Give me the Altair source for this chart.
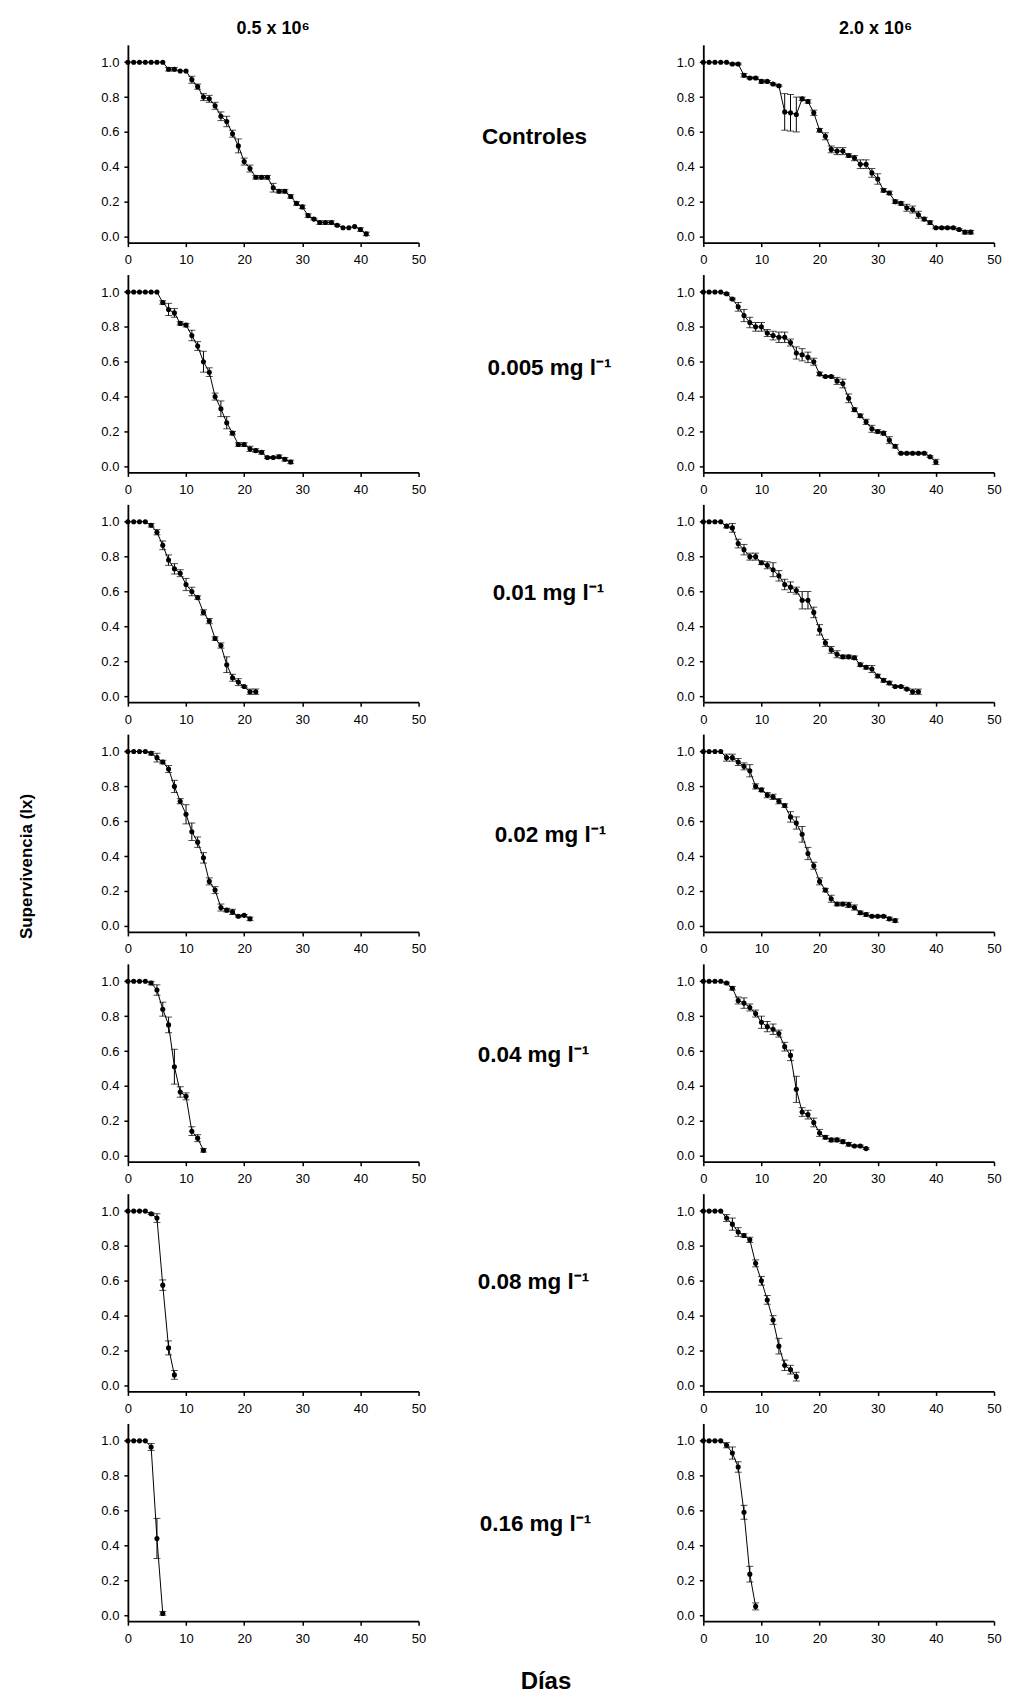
import altair as alt
import pandas as pd

# ---------------- data ----------------
density_titles = ["0.5 x 10⁶", "2.0 x 10⁶"]
treatments = ["Controles", "0.005 mg l⁻¹", "0.01 mg l⁻¹", "0.02 mg l⁻¹",
              "0.04 mg l⁻¹", "0.08 mg l⁻¹", "0.16 mg l⁻¹"]
x_ticks = [0, 10, 20, 30, 40, 50]
y_ticks = [0.0, 0.2, 0.4, 0.6, 0.8, 1.0]

# survival (lx) from day 0 onward, and its error, for 0.5 x 10^6
lx_a_ctrl = [1, 1, 1, 1, 1, 1, 1, 0.96, 0.96, 0.95, 0.95, 0.90, 0.86, 0.80, 0.79, 0.75, 0.69, 0.66,
             0.59, 0.52, 0.43, 0.39, 0.34, 0.34, 0.34, 0.28, 0.26, 0.26, 0.23, 0.19, 0.17, 0.12,
             0.10, 0.08, 0.08, 0.08, 0.065, 0.05, 0.05, 0.057, 0.04, 0.015]
er_a_ctrl = [0, 0, 0, 0, 0, 0, 0, 0.01, 0.01, 0, 0, 0.02, 0.015, 0.02, 0.02, 0.02, 0.025, 0.03,
             0.02, 0.04, 0.02, 0.02, 0.01, 0.01, 0.01, 0.025, 0.01, 0.01, 0.01, 0.01, 0.01, 0.01,
             0.005, 0.01, 0.01, 0.01, 0.005, 0, 0, 0, 0.01, 0.01]
lx_a_005 = [1, 1, 1, 1, 1, 1, 0.94, 0.90, 0.88, 0.82, 0.81, 0.75, 0.69, 0.60, 0.54, 0.40, 0.33,
            0.25, 0.19, 0.125, 0.125, 0.10, 0.09, 0.08, 0.05, 0.05, 0.055, 0.04, 0.025]
er_a_005 = [0, 0, 0, 0, 0, 0, 0.01, 0.035, 0.025, 0.01, 0.01, 0.03, 0.025, 0.06, 0.025, 0.02, 0.045,
            0.035, 0.01, 0.01, 0.01, 0.015, 0.01, 0.01, 0.005, 0.005, 0.01, 0.01, 0.01]
lx_a_01 = [1, 1, 1, 1, 0.98, 0.94, 0.865, 0.78, 0.73, 0.705, 0.64, 0.60, 0.565, 0.48, 0.43, 0.33,
           0.29, 0.18, 0.105, 0.08, 0.055, 0.025, 0.025]
er_a_01 = [0, 0, 0, 0, 0.01, 0.015, 0.025, 0.03, 0.03, 0.02, 0.035, 0.025, 0.01, 0.015, 0.015, 0.01,
           0.015, 0.045, 0.02, 0.02, 0.005, 0.015, 0.015]
lx_a_02 = [1, 1, 1, 1, 0.99, 0.965, 0.94, 0.90, 0.80, 0.715, 0.64, 0.54, 0.48, 0.39, 0.255, 0.205,
           0.105, 0.09, 0.08, 0.055, 0.06, 0.04]
er_a_02 = [0, 0, 0, 0, 0.01, 0.025, 0.01, 0.02, 0.035, 0.015, 0.055, 0.05, 0.03, 0.03, 0.02, 0.02,
           0.02, 0.01, 0.015, 0.005, 0.005, 0.01]
lx_a_04 = [1, 1, 1, 1, 0.99, 0.95, 0.84, 0.75, 0.51, 0.365, 0.34, 0.14, 0.10, 0.03]
er_a_04 = [0, 0, 0, 0, 0.01, 0.03, 0.04, 0.045, 0.10, 0.03, 0.02, 0.025, 0.02, 0.01]
lx_a_08 = [1, 1, 1, 1, 0.985, 0.96, 0.575, 0.215, 0.06]
er_a_08 = [0, 0, 0, 0, 0.005, 0.025, 0.03, 0.04, 0.025]
lx_a_16 = [1, 1, 1, 1, 0.965, 0.44, 0.01]
er_a_16 = [0, 0, 0, 0, 0.02, 0.115, 0.01]

# survival (lx) from day 0 onward, and its error, for 2.0 x 10^6
lx_b_ctrl = [1, 1, 1, 1, 1, 0.99, 0.99, 0.925, 0.91, 0.91, 0.89, 0.89, 0.875, 0.865, 0.715, 0.71,
             0.70, 0.79, 0.775, 0.71, 0.61, 0.575, 0.50, 0.49, 0.49, 0.465, 0.45, 0.415, 0.415,
             0.365, 0.33, 0.265, 0.25, 0.20, 0.19, 0.165, 0.155, 0.125, 0.10, 0.08, 0.05, 0.05,
             0.05, 0.05, 0.04, 0.025, 0.025]
er_b_ctrl = [0, 0, 0, 0, 0, 0.005, 0.005, 0.01, 0.005, 0.005, 0.01, 0.005, 0.005, 0.005, 0.105,
             0.105, 0.10, 0.01, 0.01, 0.015, 0.01, 0.02, 0.02, 0.02, 0.02, 0.01, 0.015, 0.025,
             0.025, 0.025, 0.03, 0.01, 0.01, 0.01, 0.01, 0.02, 0.02, 0.02, 0.01, 0.01, 0.005,
             0.005, 0.005, 0.005, 0.005, 0.01, 0.01]
lx_b_005 = [1, 1, 1, 1, 0.99, 0.96, 0.915, 0.865, 0.825, 0.80, 0.80, 0.765, 0.75, 0.74, 0.74, 0.71,
            0.65, 0.64, 0.625, 0.60, 0.53, 0.515, 0.515, 0.49, 0.475, 0.39, 0.325, 0.29, 0.255,
            0.215, 0.20, 0.19, 0.15, 0.115, 0.075, 0.075, 0.075, 0.075, 0.075, 0.055, 0.025]
er_b_005 = [0, 0, 0, 0, 0.005, 0.005, 0.025, 0.035, 0.03, 0.025, 0.025, 0.02, 0.025, 0.03, 0.03,
            0.02, 0.035, 0.035, 0.03, 0.02, 0.01, 0.005, 0.005, 0.02, 0.025, 0.025, 0.01, 0.01,
            0.015, 0.02, 0.01, 0.01, 0.02, 0.01, 0.005, 0.005, 0.005, 0.005, 0.005, 0.005, 0.015]
lx_b_01 = [1, 1, 1, 1, 0.975, 0.965, 0.875, 0.84, 0.80, 0.80, 0.765, 0.75, 0.725, 0.69, 0.64,
           0.625, 0.605, 0.55, 0.55, 0.48, 0.38, 0.305, 0.265, 0.24, 0.225, 0.225, 0.22, 0.18,
           0.165, 0.155, 0.115, 0.09, 0.075, 0.055, 0.055, 0.04, 0.025, 0.025]
er_b_01 = [0, 0, 0, 0, 0.01, 0.025, 0.025, 0.03, 0.02, 0.02, 0.01, 0.02, 0.04, 0.03, 0.03, 0.03,
           0.02, 0.05, 0.05, 0.03, 0.03, 0.02, 0.02, 0.02, 0.01, 0.01, 0.01, 0.01, 0.01, 0.02,
           0.01, 0.01, 0.01, 0.005, 0.005, 0.005, 0.015, 0.015]
lx_b_02 = [1, 1, 1, 1, 0.965, 0.965, 0.94, 0.915, 0.89, 0.80, 0.78, 0.75, 0.74, 0.715, 0.69, 0.625,
           0.59, 0.525, 0.415, 0.345, 0.255, 0.205, 0.155, 0.125, 0.125, 0.12, 0.105, 0.075,
           0.065, 0.055, 0.055, 0.055, 0.04, 0.03]
er_b_02 = [0, 0, 0, 0, 0.02, 0.02, 0.02, 0.02, 0.035, 0.015, 0.01, 0.015, 0.015, 0.015, 0.01, 0.03,
           0.035, 0.045, 0.035, 0.02, 0.02, 0.01, 0.02, 0.01, 0.01, 0.015, 0.015, 0.01, 0.01,
           0.005, 0.005, 0.005, 0.01, 0.01]
lx_b_04 = [1, 1, 1, 1, 0.99, 0.96, 0.89, 0.875, 0.85, 0.815, 0.765, 0.74, 0.725, 0.70, 0.625,
           0.575, 0.38, 0.25, 0.235, 0.19, 0.13, 0.105, 0.09, 0.09, 0.08, 0.065, 0.055, 0.055, 0.04]
er_b_04 = [0, 0, 0, 0, 0.005, 0.01, 0.02, 0.03, 0.02, 0.02, 0.035, 0.03, 0.03, 0.02, 0.025, 0.03,
           0.075, 0.025, 0.025, 0.025, 0.02, 0.01, 0.01, 0.01, 0.01, 0.01, 0.005, 0.005, 0.005]
lx_b_08 = [1, 1, 1, 1, 0.96, 0.925, 0.88, 0.86, 0.835, 0.70, 0.60, 0.49, 0.375, 0.225, 0.115,
           0.09, 0.05]
er_b_08 = [0, 0, 0, 0, 0.02, 0.035, 0.025, 0.01, 0.015, 0.02, 0.025, 0.025, 0.025, 0.045, 0.03,
           0.025, 0.025]
lx_b_16 = [1, 1, 1, 1, 0.975, 0.93, 0.85, 0.59, 0.235, 0.05]
er_b_16 = [0, 0, 0, 0, 0.015, 0.035, 0.03, 0.04, 0.045, 0.02]

series_a = [(lx_a_ctrl, er_a_ctrl), (lx_a_005, er_a_005), (lx_a_01, er_a_01), (lx_a_02, er_a_02),
            (lx_a_04, er_a_04), (lx_a_08, er_a_08), (lx_a_16, er_a_16)]
series_b = [(lx_b_ctrl, er_b_ctrl), (lx_b_005, er_b_005), (lx_b_01, er_b_01), (lx_b_02, er_b_02),
            (lx_b_04, er_b_04), (lx_b_08, er_b_08), (lx_b_16, er_b_16)]
series = [series_a, series_b]

# ---------------- style ----------------
FONT = "Liberation Sans"
PW, PH = 291, 198
ROW_GAP, COL_GAP = 32, 285
label_cx = [534, 549, 548, 550, 533, 533, 535]   # page x-centre of the middle labels
label_cy = [92, 93, 88, 100, 91, 88, 100]          # y-centre of the middle labels in each panel
RIGHT_PLOT_X = 703.5
LEFT_PLOT_X = 128
MID_SIZE = 22.5

yscale = alt.Scale(domain=[-0.035, 1.1], nice=False, zero=False)
xscale = alt.Scale(domain=[0, 50], nice=False)


def make_panel(r, c):
    vals, errs = series[c][r]
    df = pd.DataFrame({"day": list(range(len(vals))), "lx": vals, "err": errs})
    df["lo"] = df["lx"] - df["err"]
    df["hi"] = df["lx"] + df["err"]

    if c == 0 and r == 3:
        yaxis = alt.Axis(values=y_ticks, format=".1f", title="Supervivencia (lx)",
                         titleAngle=270, titleX=-101, titleY=132, titleAlign="center",
                         titleBaseline="middle", titleFontSize=17)
    elif c == 1:
        yaxis = alt.Axis(values=y_ticks, format=".1f", title=treatments[r], titleAngle=0,
                         titleX=label_cx[r] - RIGHT_PLOT_X, titleY=label_cy[r],
                         titleAlign="center", titleBaseline="middle", titleFontSize=MID_SIZE)
    else:
        yaxis = alt.Axis(values=y_ticks, format=".1f", title=None)

    if c == 0 and r == 6:
        xaxis = alt.Axis(values=x_ticks, title="Días", titleX=546 - LEFT_PLOT_X, titleY=60,
                         titleAlign="center", titleBaseline="middle", labelFlush=False,
                         titleFontSize=24)
    else:
        xaxis = alt.Axis(values=x_ticks, title=None, labelFlush=False)

    base = alt.Chart(df).encode(x=alt.X("day:Q", scale=xscale, axis=xaxis))
    line = base.mark_line(color="black", strokeWidth=1).encode(
        y=alt.Y("lx:Q", scale=yscale, axis=yaxis))
    ebase = base.transform_filter("datum.err > 0")
    rule = ebase.mark_rule(color="black", strokeWidth=1).encode(
        y=alt.Y("lo:Q", scale=yscale, axis=yaxis), y2="hi:Q")
    cap_lo = ebase.mark_tick(color="black", orient="horizontal", size=7, thickness=1).encode(
        y=alt.Y("lo:Q", scale=yscale, axis=yaxis))
    cap_hi = ebase.mark_tick(color="black", orient="horizontal", size=7, thickness=1).encode(
        y=alt.Y("hi:Q", scale=yscale, axis=yaxis))
    pts = base.mark_circle(color="black", size=26, opacity=1).encode(
        y=alt.Y("lx:Q", scale=yscale, axis=yaxis))

    ch = alt.layer(line, rule, cap_lo, cap_hi, pts).properties(width=PW, height=PH)
    if r == 0:
        ch = ch.properties(title=alt.TitleParams(
            density_titles[c], font=FONT, fontSize=18, fontWeight="bold", color="black",
            anchor="middle", offset=7, dx=(0 if c == 0 else 27)))
    return ch


panels = [make_panel(r, c) for r in range(7) for c in range(2)]

chart = (
    alt.concat(*panels, columns=2, spacing={"row": ROW_GAP, "column": COL_GAP}, bounds="flush")
    .properties(padding={"left": 10, "top": 11, "right": 0, "bottom": 0})
    .configure_view(stroke=None)
    .configure_axis(
        grid=False, domainColor="black", domainWidth=1.8, tickColor="black", tickWidth=1.5,
        tickSize=4, labelFont=FONT, labelFontSize=13, labelColor="black",
        titleFont=FONT, titleFontSize=17, titleFontWeight="bold", titleColor="black")
    .configure_axisX(labelPadding=7)
    .configure_axisY(labelPadding=5)
)

chart.save("out.html", embed_options={"renderer": "svg", "actions": False})
